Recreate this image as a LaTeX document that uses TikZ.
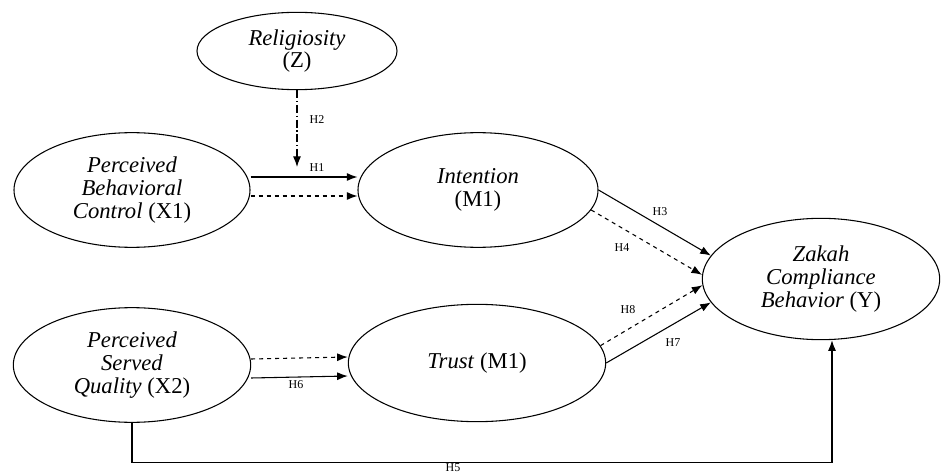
\documentclass[tikz,border=0pt]{standalone}
\usepackage{fontspec}
\setmainfont{Liberation Serif}
\usetikzlibrary{arrows.meta,shapes.geometric}

\begin{document}
\begin{tikzpicture}[x=0.75pt,y=-0.75pt]
    \tikzset{
      construct/.style={ellipse,draw,line width=0.8pt,align=center,inner sep=0pt,
        font=\fontsize{17}{17}\selectfont},
      edge/.style={->,> = {Latex[length=8pt,width=6pt]},line width=0.8pt},
      hyp/.style={font=\fontsize{9}{9}\selectfont,inner sep=1pt}
    }
    \useasboundingbox (0,0) rectangle (943,474);
    % constructs
    \node[construct, minimum width=150pt, minimum height=58pt] (rel) at (297,51) {\textit{Religiosity}\\(Z)};
    \node[construct, minimum width=177pt, minimum height=86pt] (pbc) at (132,190) {\textit{Perceived}\\\textit{Behavioral}\\\textit{Control} (X1)};
    \node[construct, minimum width=180pt, minimum height=86pt] (int) at (478,190) {\textit{Intention}\\(M1)};
    \node[construct, minimum width=178pt, minimum height=86pt] (psq) at (132,365) {\textit{Perceived}\\\textit{Served}\\\textit{Quality} (X2)};
    \node[construct, minimum width=193pt, minimum height=88pt] (tru) at (477,363) {\textit{Trust} (M1)};
    \node[construct, minimum width=178pt, minimum height=91pt] (zak) at (821,279) {\textit{Zakah}\\\textit{Compliance}\\\textit{Behavior} (Y)};
    \coordinate (mod) at (297,167);

    % hypothesis labels
    \node[hyp] (h1) at (317,168) {H1};
    \node[hyp] (h2) at (317,120) {H2};
    \node[hyp] (h3) at (660,212) {H3};
    \node[hyp] (h4) at (622,248) {H4};
    \node[hyp] (h5) at (453,468) {H5};
    \node[hyp] (h6) at (296,385) {H6};
    \node[hyp] (h7) at (673,343) {H7};
    \node[hyp] (h8) at (628,310) {H8};

    %edges
    \draw[edge, dash pattern=on 6pt off 2pt on 1pt off 2pt] (rel.south) -- (mod);
    \draw[edge] ([yshift=9.75pt]pbc.east) -- ([yshift=9.75pt]int.west);
    \draw[edge, dashed] ([yshift=-4.5pt]pbc.east) -- ([yshift=-4.5pt]int.west);
    \draw[edge, dashed] ([yshift=4.5pt]psq.east) -- ([yshift=4.5pt]tru.west);
    \draw[edge] ([yshift=-9.75pt]psq.east) -- ([yshift=-9.75pt]tru.west);
    \draw[edge] (int.east) -- (zak.168);
    \draw[edge, dashed] (int.-10) -- (zak.178);
    \draw[edge, dashed] (tru.8) -- (zak.183);
    \draw[edge] (tru.east) -- (zak.192);
    \draw[edge] (psq.south) -- ++(0,40) -| ([xshift=8.25pt]zak.south);
\end{tikzpicture}
\end{document}
